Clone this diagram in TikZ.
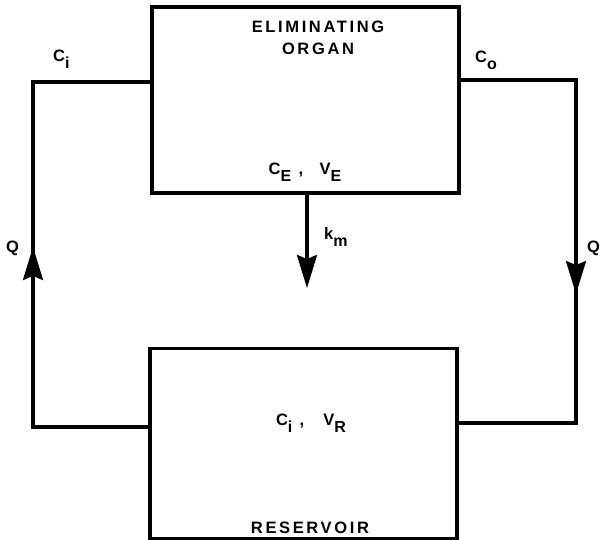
\documentclass[tikz,border=0pt]{standalone}
\usepackage{fontspec}
\setmainfont{Liberation Sans}[LetterSpace=16]
\usetikzlibrary{arrows.meta}
\newcommand\lsub[1]{\raisebox{-7pt}{\fontsize{16}{16}\selectfont\bfseries #1}}
\begin{document}
\begin{tikzpicture}[x=1pt,y=-1pt,
  boxst/.style={draw,line width=3.2pt,minimum width=307pt,inner sep=0pt},
  wire/.style={line width=3.2pt},
  flow/.style={line width=3.2pt,-{Stealth[length=33pt,width=20pt,inset=4pt]}},
  lbl/.style={font=\fontsize{16.5}{19}\selectfont\bfseries,inner sep=0pt}]
\useasboundingbox (0,0) rectangle (600,540);
% boxes
\node[boxst,minimum height=186pt] (organ) at (305.5,100) {};
\node[boxst,minimum height=190pt] (res) at (303.5,443.5) {};
% texts
\node[lbl,anchor=base] (t1) at (318,33) {ELIMINATING};
\node[lbl,anchor=base] (t2) at (318,55) {ORGAN};
\node[lbl,anchor=base] (t3) at (305,175) {C\lsub{E}\;\,,\;\; V\lsub{E}};
\node[lbl,anchor=base] (t4) at (311,425) {C\lsub{i}\;\,,\;\;\, V\lsub{R}};
\node[lbl,anchor=base] (t5) at (310,533) {RESERVOIR};
\node[lbl,anchor=base west] (ci) at (53,62) {C\lsub{i}};
\node[lbl,anchor=base west] (co) at (475,63) {C\lsub{o}};
\node[lbl,anchor=base west] (km) at (324,240) {k\lsub{m}};
\node[lbl,anchor=base west] (ql) at (6,253) {Q};
\node[lbl,anchor=base west] (qr) at (587,253) {Q};
% wire coordinates
\coordinate (oL) at (organ.west |- 0,82);
\coordinate (oR) at (organ.east |- 0,80);
\coordinate (rL) at (res.west |- 0,427);
\coordinate (rR) at (res.east |- 0,423);
\coordinate (lt) at (33,82);
\coordinate (lb) at (33,427);
\coordinate (rt) at (576,80);
\coordinate (rb) at (576,423);
\draw[wire] (rL) -- (lb) -- (lt) -- (oL);
\draw[wire] (oR) -- (rt) -- (rb) -- (rR);
% arrows on the loop
\coordinate (qa1) at (33,281);
\coordinate (qa2) at (33,247);
\coordinate (qb1) at (576,260);
\coordinate (qb2) at (576,294);
\draw[flow] (qa1) -- (qa2);
\draw[flow] (qb1) -- (qb2);
% elimination arrow
\coordinate (kt) at (307,288);
\draw[flow] (organ.south -| kt) -- (kt);
\end{tikzpicture}
\end{document}
